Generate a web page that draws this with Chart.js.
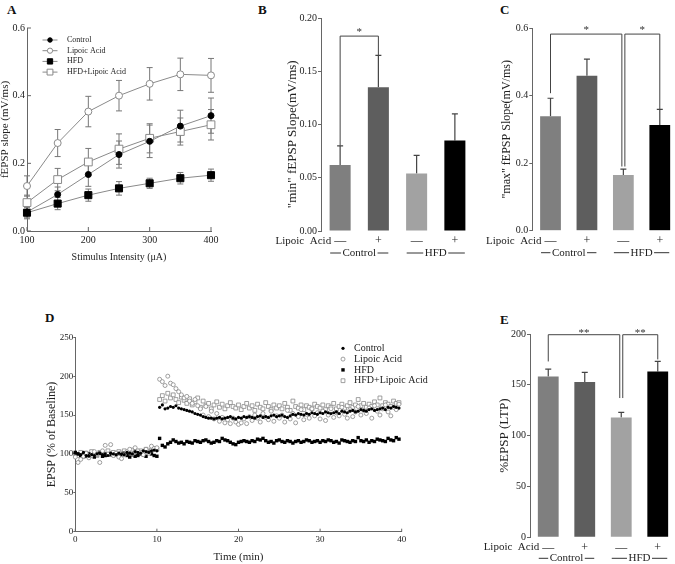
<!DOCTYPE html>
<html>
<head>
<meta charset="utf-8">
<title>fEPSP slope and LTP</title>
<script src="https://cdn.jsdelivr.net/npm/chart.js@4.4.1/dist/chart.umd.min.js"></script>
<style>
  html, body { margin: 0; padding: 0; background: #fff; overflow: hidden; }
  body { width: 675px; height: 564px; position: relative; }
  canvas { position: absolute; }
  .tag { position: absolute; font: bold 13px "Liberation Serif", "Times New Roman", serif; color: #111; }
</style>
</head>
<body>
<div class="tag" style="left:7px;top:2px">A</div>
<div class="tag" style="left:258px;top:2px">B</div>
<div class="tag" style="left:500px;top:2px">C</div>
<div class="tag" style="left:45px;top:310px">D</div>
<div class="tag" style="left:500px;top:312px">E</div>

<canvas id="chartA" width="225" height="270" style="left:0;top:0"></canvas>
<canvas id="chartB" width="210" height="270" style="left:270px;top:0"></canvas>
<canvas id="chartC" width="200" height="270" style="left:480px;top:0"></canvas>
<canvas id="chartD" width="440" height="264" style="left:0;top:300px"></canvas>
<canvas id="chartE" width="200" height="264" style="left:480px;top:300px"></canvas>

<script>
// A: input-output curves
const intensities = [100, 150, 200, 250, 300, 350, 400];
const slopeControl = [0.056, 0.108, 0.167, 0.226, 0.265, 0.310, 0.341];
const slopeControlErr = [0.020, 0.022, 0.035, 0.040, 0.048, 0.047, 0.052];
const slopeLipoic = [0.133, 0.260, 0.353, 0.400, 0.435, 0.463, 0.460];
const slopeLipoicErr = [0.030, 0.040, 0.045, 0.045, 0.048, 0.048, 0.050];
const slopeHfd = [0.054, 0.081, 0.106, 0.126, 0.141, 0.156, 0.165];
const slopeHfdErr = [0.015, 0.018, 0.018, 0.020, 0.015, 0.017, 0.018];
const slopeHfdLa = [0.084, 0.152, 0.204, 0.242, 0.274, 0.294, 0.314];
const slopeHfdLaErr = [0.022, 0.033, 0.040, 0.045, 0.043, 0.040, 0.045];

// B, C, E: bar panels
const lipoicSigns = ['—', '+', '—', '+'];
const groups = ['Control', 'HFD'];
const minSlope = [0.062, 0.135, 0.054, 0.085];
const minSlopeErr = [0.018, 0.030, 0.017, 0.025];
const maxSlope = [0.339, 0.459, 0.165, 0.313];
const maxSlopeErr = [0.053, 0.049, 0.017, 0.046];
const ltp = [158.3, 152.7, 117.9, 163.2];
const ltpErr = [7.2, 9.5, 4.9, 9.8];

// D: EPSP time course, 3 samples per minute
const epspControl = [
  101, 100, 99, 102, 98, 97, 99, 98, 100, 101, 99, 100, 98, 101, 100,
  99, 101, 100, 99, 102, 101, 100, 103, 102, 101, 104, 103, 102, 104, 105,
  104, 160, 163, 158, 159, 161, 160, 162, 159, 158, 157, 156, 155, 154, 152,
  151, 150, 148, 147, 146, 146, 145, 146, 147, 145, 146, 147, 148, 146, 145,
  147, 146, 148, 147, 148, 147, 146, 148, 149, 147, 148, 147, 149, 150, 148,
  149, 150, 148, 147, 149, 151, 150, 152, 151, 150, 152, 151, 153, 152, 151,
  153, 152, 154, 153, 152, 153, 154, 152, 155, 154, 153, 155, 156, 154, 155,
  157, 156, 155, 157, 158, 156, 157, 158, 159, 157, 160, 159, 161, 160, 159
];
const epspLipoic = [
  96, 89, 93, 97, 101, 95, 98, 103, 99, 89, 104, 111, 100, 112, 98,
  101, 96, 94, 99, 103, 106, 100, 108, 104, 102, 99, 106, 101, 110, 107,
  108, 196, 193, 188, 200, 191, 189, 184, 180, 176, 172, 174, 168, 165, 170,
  162, 158, 150, 161, 148, 155, 145, 152, 142, 147, 140, 144, 139, 146, 141,
  138, 140, 145, 139, 148, 143, 150, 146, 141, 152, 147, 144, 155, 142, 149,
  146, 150, 141, 156, 145, 152, 140, 148, 157, 144, 151, 146, 158, 149, 153,
  145, 155, 143, 150, 158, 147, 153, 149, 160, 151, 146, 157, 148, 154, 161,
  150, 156, 152, 159, 146, 162, 155, 150, 158, 163, 154, 149, 160, 157, 164
];
const epspHfd = [
  102, 100, 98, 99, 97, 100, 98, 96, 99, 101, 97, 98, 100, 99, 98,
  100, 97, 99, 101, 98, 96, 99, 97, 98, 100, 99, 97, 102, 100, 98,
  97, 120, 111, 109, 113, 115, 118, 116, 114, 115, 113, 116, 115, 114, 117,
  116, 115, 117, 118, 116, 114, 115, 117, 116, 120, 118, 117, 115, 113, 112,
  115, 116, 117, 116, 115, 117, 116, 119, 118, 120, 117, 115, 116, 114, 117,
  118, 116, 115, 117, 116, 114, 116, 117, 115, 116, 118, 117, 115, 116, 117,
  115, 117, 116, 118, 117, 115, 116, 114, 118, 117, 116, 115, 117, 116, 121,
  117, 116, 118, 115, 117, 116, 119, 118, 117, 116, 120, 118, 117, 121, 119
];
const epspHfdLa = [
  100, 98, 102, 97, 101, 99, 103, 100, 98, 102, 101, 99, 104, 100, 102,
  99, 103, 101, 104, 100, 102, 105, 103, 101, 104, 102, 106, 103, 105, 107,
  106, 170, 175, 168, 178, 172, 176, 170, 166, 173, 169, 165, 171, 163, 167,
  172, 160, 168, 162, 165, 158, 163, 167, 160, 164, 158, 162, 166, 161, 159,
  163, 157, 161, 165, 159, 162, 156, 164, 160, 158, 166, 161, 157, 163, 159,
  162, 158, 165, 160, 156, 168, 161, 159, 163, 157, 162, 160, 158, 164, 161,
  159, 163, 157, 162, 160, 165, 158, 161, 164, 159, 162, 166, 160, 163, 170,
  162, 165, 160, 164, 161, 167, 163, 172, 162, 166, 164, 161, 168, 165, 166
];
const minutes = epspControl.map((_, i) => i / 3);

const serif = '"Liberation Serif", "Times New Roman", serif';
const axisColor = '#666';
const barColors = ['#7f7f7f', '#5e5e5e', '#a2a2a2', '#000000'];

Chart.defaults.font.family = serif;
Chart.defaults.color = '#222';
Chart.defaults.animation = false;
Chart.defaults.responsive = false;
Chart.defaults.plugins.legend.display = false;
Chart.defaults.plugins.tooltip.enabled = false;

// vertical error bars from dataset.errors
const errorBars = {
  id: 'errorBars',
  beforeDatasetsDraw(chart, args, opts) {
    const ctx = chart.ctx;
    const y = chart.scales.y;
    chart.data.datasets.forEach((ds, di) => {
      if (!ds.errors) return;
      const meta = chart.getDatasetMeta(di);
      ctx.save();
      ctx.strokeStyle = opts.color;
      ctx.lineWidth = opts.width;
      meta.data.forEach((el, i) => {
        const d = ds.data[i];
        const v = typeof d === 'object' ? d.y : d;
        const e = ds.errors[i];
        const top = y.getPixelForValue(v + e);
        const bot = y.getPixelForValue(opts.upOnly ? v : v - e);
        ctx.beginPath();
        ctx.moveTo(el.x, top);
        ctx.lineTo(el.x, bot);
        ctx.moveTo(el.x - opts.cap, top);
        ctx.lineTo(el.x + opts.cap, top);
        if (!opts.upOnly) {
          ctx.moveTo(el.x - opts.cap, bot);
          ctx.lineTo(el.x + opts.cap, bot);
        }
        ctx.stroke();
      });
      ctx.restore();
    });
  }
};

// tick marks pointing into the plot
const innerTicks = {
  id: 'innerTicks',
  afterDraw(chart, args, opts) {
    const { ctx, chartArea: a, scales } = chart;
    ctx.save();
    ctx.strokeStyle = axisColor;
    ctx.lineWidth = 1;
    ctx.beginPath();
    if (opts.x) {
      scales.x.ticks.forEach(t => {
        const px = scales.x.getPixelForValue(t.value);
        ctx.moveTo(px, a.bottom);
        ctx.lineTo(px, a.bottom - opts.length);
      });
    }
    if (opts.y) {
      scales.y.ticks.forEach(t => {
        const py = scales.y.getPixelForValue(t.value);
        ctx.moveTo(a.left, py);
        ctx.lineTo(a.left + opts.length, py);
      });
    }
    ctx.stroke();
    ctx.restore();
  }
};

// small legend drawn inside the plot
const legendBox = {
  id: 'legendBox',
  afterDraw(chart, args, opts) {
    const ctx = chart.ctx;
    ctx.save();
    ctx.font = opts.font;
    ctx.textBaseline = 'middle';
    chart.data.datasets.forEach((ds, i) => {
      const y = opts.y + i * opts.step;
      if (opts.line) {
        ctx.strokeStyle = ds.borderColor;
        ctx.lineWidth = 1;
        ctx.beginPath();
        ctx.moveTo(opts.x - opts.line, y);
        ctx.lineTo(opts.x + opts.line, y);
        ctx.stroke();
      }
      ctx.fillStyle = ds.pointBackgroundColor;
      ctx.strokeStyle = ds.pointBorderColor;
      ctx.lineWidth = ds.pointBorderWidth;
      Chart.helpers.drawPoint(ctx, {
        pointStyle: ds.pointStyle,
        radius: ds.pointRadius * opts.scale,
        borderWidth: ds.pointBorderWidth,
        rotation: 0
      }, opts.x, y);
      ctx.fillStyle = '#222';
      ctx.fillText(ds.label, opts.textX, y);
    });
    ctx.restore();
  }
};

// significance brackets
const brackets = {
  id: 'brackets',
  afterDatasetsDraw(chart, args, opts) {
    const { ctx, scales: { x, y } } = chart;
    ctx.save();
    ctx.strokeStyle = '#444';
    ctx.lineWidth = 1;
    ctx.fillStyle = '#333';
    ctx.font = opts.font;
    ctx.textAlign = 'center';
    ctx.textBaseline = 'alphabetic';
    opts.items.forEach(b => {
      const x1 = x.getPixelForValue(b.from) + (b.shiftFrom || 0);
      const x2 = x.getPixelForValue(b.to) + (b.shiftTo || 0);
      const yl = y.getPixelForValue(b.level);
      ctx.beginPath();
      ctx.moveTo(x1, y.getPixelForValue(b.dropFrom));
      ctx.lineTo(x1, yl);
      ctx.lineTo(x2, yl);
      ctx.lineTo(x2, y.getPixelForValue(b.dropTo));
      ctx.stroke();
      ctx.fillText(b.text, (x1 + x2) / 2, yl + opts.textDy);
    });
    ctx.restore();
  }
};

// "Lipoic Acid" row title and Control / HFD group rows
const groupLabels = {
  id: 'groupLabels',
  afterDraw(chart, args, opts) {
    const { ctx, chartArea: a, scales: { x } } = chart;
    const step = x.getPixelForValue(1) - x.getPixelForValue(0);
    ctx.save();
    ctx.font = opts.font;
    ctx.fillStyle = '#222';
    ctx.strokeStyle = '#333';
    ctx.lineWidth = 1;
    ctx.textBaseline = 'middle';
    ctx.textAlign = 'right';
    ctx.fillText('Lipoic  Acid', x.getPixelForValue(0) - opts.leadGap, a.bottom + opts.leadDy);
    ctx.textAlign = 'center';
    groups.forEach((g, gi) => {
      const cx = (x.getPixelForValue(gi * 2) + x.getPixelForValue(gi * 2 + 1)) / 2;
      const y = a.bottom + opts.groupDy;
      const half = ctx.measureText(g).width / 2;
      const ext = step * opts.extent;
      ctx.fillText(g, cx, y);
      ctx.beginPath();
      ctx.moveTo(cx - ext, y);
      ctx.lineTo(cx - half - 1.5, y);
      ctx.moveTo(cx + half + 1.5, y);
      ctx.lineTo(cx + ext, y);
      ctx.stroke();
    });
    ctx.restore();
  }
};

function curve(label, values, errors, style, fill, stroke, radius) {
  return {
    label,
    data: intensities.map((x, i) => ({ x, y: values[i] })),
    errors,
    borderColor: '#8a8a8a',
    borderWidth: 1,
    pointStyle: style,
    pointRadius: radius,
    pointBackgroundColor: fill,
    pointBorderColor: stroke,
    pointBorderWidth: 1,
    tension: 0,
    clip: false
  };
}

new Chart(document.getElementById('chartA'), {
  type: 'line',
  data: {
    datasets: [
      curve('Control', slopeControl, slopeControlErr, 'circle', '#000', '#000', 3),
      curve('Lipoic Acid', slopeLipoic, slopeLipoicErr, 'circle', '#fff', '#8a8a8a', 3.5),
      curve('HFD', slopeHfd, slopeHfdErr, 'rect', '#000', '#000', 5),
      curve('HFD+Lipoic Acid', slopeHfdLa, slopeHfdLaErr, 'rect', '#fff', '#8a8a8a', 5.5)
    ]
  },
  options: {
    layout: { padding: { left: 0, right: 14, top: 28, bottom: 0 } },
    scales: {
      x: {
        type: 'linear', min: 100, max: 400,
        ticks: { stepSize: 100, padding: 3, font: { size: 10 } },
        grid: { display: false, drawTicks: false },
        border: { color: axisColor },
        title: { display: true, text: 'Stimulus Intensity (μA)', font: { size: 10 }, padding: { top: 0, bottom: 7 } },
        afterFit: s => { s.height = 39; }
      },
      y: {
        min: 0, max: 0.6,
        ticks: { stepSize: 0.2, padding: 2, font: { size: 10 }, callback: v => v.toFixed(1) },
        grid: { display: false, drawTicks: false },
        border: { color: axisColor },
        title: { display: true, text: 'fEPSP slope (mV/ms)', font: { size: 11 }, padding: { top: -1, bottom: 0 } },
        afterFit: s => { s.width = 27; }
      }
    },
    plugins: {
      errorBars: { color: '#777', width: 1, cap: 3, upOnly: false },
      innerTicks: { x: true, y: true, length: 4 },
      legendBox: { x: 50, y: 40, step: 10.7, line: 7.5, textX: 67, scale: 0.75, font: '8px ' + serif }
    }
  },
  plugins: [errorBars, innerTicks, legendBox]
});

function barPanel(id, values, errors, cfg) {
  return new Chart(document.getElementById(id), {
    type: 'bar',
    data: {
      labels: lipoicSigns,
      datasets: [{
        data: values,
        errors,
        backgroundColor: barColors,
        barPercentage: cfg.barPct,
        categoryPercentage: 1
      }]
    },
    options: {
      layout: { padding: cfg.padding },
      scales: {
        x: {
          grid: { display: false, drawTicks: false },
          border: { display: false },
          ticks: { padding: 3, font: { size: 12 } },
          afterFit: s => { s.height = cfg.xHeight; }
        },
        y: {
          min: 0, max: cfg.max,
          ticks: { stepSize: cfg.step, padding: 1, font: { size: 10 }, callback: cfg.fmt },
          grid: { drawOnChartArea: false, tickLength: 3, color: axisColor },
          border: { color: axisColor },
          title: { display: true, text: cfg.title, font: { size: cfg.titleSize }, padding: { top: cfg.titlePad, bottom: 0 } },
          afterFit: s => { s.width = cfg.yWidth; }
        }
      },
      plugins: {
        errorBars: { color: '#444', width: 1.2, cap: 3, upOnly: true },
        brackets: { items: cfg.brackets, font: cfg.starFont, textDy: cfg.starDy },
        groupLabels: { font: '11px ' + serif, leadGap: 9, leadDy: cfg.leadDy, groupDy: cfg.groupDy, extent: 0.76 }
      }
    },
    plugins: [errorBars, brackets, groupLabels]
  });
}

barPanel('chartB', minSlope, minSlopeErr, {
  padding: { left: 0, right: 6, top: 18, bottom: 0 },
  xHeight: 39, yWidth: 51, max: 0.2, step: 0.05, fmt: v => v.toFixed(2),
  barPct: 0.55,
  title: '"min" fEPSP Slope(mV/ms)      ', titleSize: 13, titlePad: 15,
  leadDy: 10.3, groupDy: 22,
  starFont: '11px ' + serif, starDy: -1,
  brackets: [{ from: 0, to: 1, level: 0.183, dropFrom: 0.080, dropTo: 0.165, text: '*' }]
});

barPanel('chartC', maxSlope, maxSlopeErr, {
  padding: { left: 0, right: 2, top: 28, bottom: 0 },
  xHeight: 39.3, yWidth: 52.3, max: 0.6, step: 0.2, fmt: v => v.toFixed(1),
  barPct: 0.57,
  title: '"max" fEPSP Slope(mV/ms)', titleSize: 12, titlePad: 20,
  leadDy: 10.3, groupDy: 22,
  starFont: '11px ' + serif, starDy: -1,
  brackets: [
    { from: 0, to: 2, level: 0.582, dropFrom: 0.407, dropTo: 0.190, shiftTo: -1.5, text: '*' },
    { from: 2, to: 3, level: 0.582, dropFrom: 0.190, dropTo: 0.358, shiftFrom: 1.5, text: '*' }
  ]
});

barPanel('chartE', ltp, ltpErr, {
  padding: { left: 0, right: 4, top: 34, bottom: 0 },
  xHeight: 26.7, yWidth: 50, max: 200, step: 50, fmt: v => v,
  barPct: 0.57,
  title: '%EPSP (LTP)', titleSize: 13, titlePad: 17,
  leadDy: 10, groupDy: 21,
  starFont: '11px ' + serif, starDy: 1.5,
  brackets: [
    { from: 0, to: 2, level: 199.3, dropFrom: 173, dropTo: 137, shiftTo: -1.5, text: '**' },
    { from: 2, to: 3, level: 199.3, dropFrom: 137, dropTo: 175, shiftFrom: 1.5, text: '**' }
  ]
});

function timeSeries(label, values, style, fill, stroke, radius, width) {
  return {
    label,
    data: values.map((v, i) => ({ x: minutes[i], y: v })),
    pointStyle: style,
    pointRadius: radius,
    pointBackgroundColor: fill,
    pointBorderColor: stroke,
    pointBorderWidth: width,
    showLine: false,
    clip: false
  };
}

new Chart(document.getElementById('chartD'), {
  type: 'scatter',
  data: {
    datasets: [
      timeSeries('Control', epspControl, 'circle', '#000', '#000', 1.6, 0),
      timeSeries('Lipoic Acid', epspLipoic, 'circle', '#fff', '#888', 2, 0.8),
      timeSeries('HFD', epspHfd, 'rect', '#000', '#000', 2.4, 0),
      timeSeries('HFD+Lipoic Acid', epspHfdLa, 'rect', '#fff', '#888', 2.7, 0.8)
    ]
  },
  options: {
    layout: { padding: { left: 0, right: 38.3, top: 37.3, bottom: 0 } },
    scales: {
      x: {
        type: 'linear', min: 0, max: 40,
        ticks: { stepSize: 10, padding: 3, font: { size: 9 } },
        grid: { display: false, drawTicks: false },
        border: { color: axisColor },
        title: { display: true, text: 'Time (min)', font: { size: 11 }, padding: { top: 0, bottom: 0.7 } },
        afterFit: s => { s.height = 32.3; }
      },
      y: {
        min: 0, max: 250,
        ticks: { stepSize: 50, padding: 0, font: { size: 9 } },
        grid: { drawOnChartArea: false, tickLength: 2, color: axisColor },
        border: { color: axisColor },
        title: { display: true, text: 'EPSP (% of Baseline)', font: { size: 12 }, padding: { top: 44.5, bottom: 0 } },
        afterFit: s => { s.width = 75.3; }
      }
    },
    plugins: {
      innerTicks: { x: true, y: false, length: 3 },
      legendBox: { x: 343, y: 48.3, step: 10.8, line: 0, textX: 354, scale: 1, font: '10px ' + serif }
    }
  },
  plugins: [innerTicks, legendBox]
});
</script>
</body>
</html>
